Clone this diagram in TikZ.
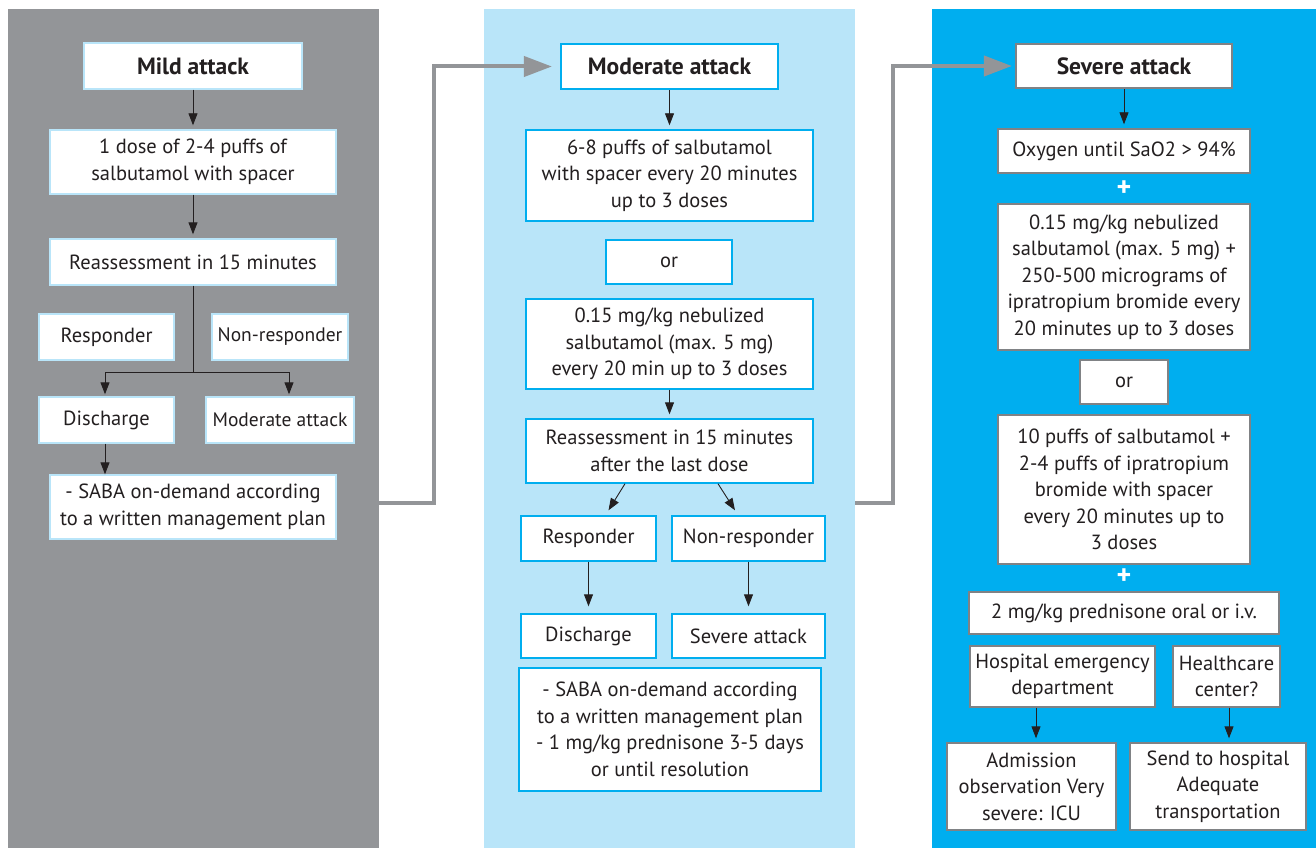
\documentclass[tikz,border=0pt]{standalone}
\usepackage{fontspec}
\setmainfont{PT Sans}
\usetikzlibrary{arrows.meta}
\definecolor{panelgray}{HTML}{939598}
\definecolor{panellight}{HTML}{B9E5F9}
\definecolor{panelblue}{HTML}{00AEEF}
\definecolor{boxgray}{HTML}{808285}
\definecolor{inkdark}{HTML}{231F20}
\tikzset{
  box/.style={draw, fill=white, line width=1.4pt, align=center, inner sep=0pt,
    text=inkdark, font=\fontsize{20.5}{26.5}\selectfont},
  title/.style={line width=2.2pt, font=\fontsize{23.5}{26}\selectfont\bfseries},
  sz/.style 2 args={minimum width=#1pt, minimum height=#2pt},
  arr/.style={inkdark, line width=0.9pt, -{Triangle[length=12pt,width=9pt]}, shorten >=4pt},
  bigarr/.style={panelgray, line width=4pt, -{Triangle[length=28pt,width=20pt]}},
}
\begin{document}
\begin{tikzpicture}[x=1pt,y=-1pt]
\useasboundingbox (0,0) rectangle (1316,848);
% panels
\fill[panelgray] (8,9) rectangle (379,848);
\fill[panellight] (484,9) rectangle (855,848);
\fill[panelblue] (932,9) rectangle (1316,848);

% mild
\begin{scope}[every node/.style={box, draw=panellight}]
\node[sz={218}{46}, title, line width=1.4pt] (mild) at (193,66) {Mild attack};
\node[sz={286}{64}] (dose) at (193,162) {1 dose of 2-4 puffs of\\salbutamol with spacer};
\node[sz={286}{46}] (reassA) at (193,262) {Reassessment in 15 minutes};
\node[sz={135}{46}] (respA) at (106.5,337) {Responder};
\node[sz={136}{46}, font=\fontsize{19.5}{26}\selectfont] (nonrespA) at (280,337) {Non-responder};
\node[sz={135}{46}] (dischA) at (106.5,420) {Discharge};
\node[sz={148}{46}, font=\fontsize{19.5}{26}\selectfont] (modA) at (280,420) {Moderate attack};
\node[sz={286}{64}] (sabaA) at (193,507) {- SABA on-demand according\\to a written management plan};
\end{scope}

% moderate
\begin{scope}[every node/.style={box, draw=panelblue}]
\node[sz={217}{45}, title] (mod) at (669.5,66.5) {Moderate attack};
\node[sz={287}{91}] (puffs) at (669.5,175.5) {6-8 puffs of salbutamol\\with spacer every 20 minutes\\up to 3 doses};
\node[sz={126}{44}] (orA) at (669,262) {or};
\node[sz={287}{90}] (nebA) at (669.5,344) {0.15 mg/kg nebulized\\salbutamol (max. 5 mg)\\every 20 min up to 3 doses};
\node[sz={287}{64}] (reassB) at (669.5,451) {Reassessment in 15 minutes\\after the last dose};
\node[sz={135}{45}] (respB) at (588.5,538.5) {Responder};
\node[sz={153}{45}] (nonrespB) at (748.5,538.5) {Non-responder};
\node[sz={135}{44}] (dischB) at (588.5,636) {Discharge};
\node[sz={153}{44}] (sevB) at (748.5,636) {Severe attack};
\node[sz={302}{123}] (sabaB) at (670,729.5) {- SABA on-demand according\\to a written management plan\\- 1 mg/kg prednisone 3-5 days\\or until resolution};
\end{scope}

% severe
\begin{scope}[every node/.style={box, draw=boxgray}]
\node[sz={216}{44}, title] (sev) at (1124,66) {Severe attack};
\node[sz={252}{44}] (oxy) at (1124,151) {Oxygen until SaO2 > 94\%};
\node[sz={252}{146}] (nebB) at (1124,277) {0.15 mg/kg nebulized\\salbutamol (max. 5 mg) +\\250-500 micrograms of\\ipratropium bromide every\\20 minutes up to 3 doses};
\node[sz={88}{44}] (orB) at (1124,382) {or};
\node[sz={252}{149}] (ten) at (1124,489.5) {10 puffs of salbutamol +\\2-4 puffs of ipratropium\\bromide with spacer\\every 20 minutes up to\\3 doses};
\node[sz={310}{42}] (pred) at (1124,613) {2 mg/kg prednisone oral or i.v.};
\node[sz={185}{61}] (hosp) at (1062.5,676.5) {Hospital emergency\\department};
\node[sz={107}{61}] (hc) at (1226.5,676.5) {Healthcare\\center?};
\node[sz={169}{87}] (adm) at (1031.5,786.5) {Admission\\observation Very\\severe: ICU};
\node[sz={176}{87}] (send) at (1218,786.5) {Send to hospital\\Adequate\\transportation};
\end{scope}
\node[text=white, font=\fontsize{28}{28}\selectfont\bfseries] (plusA) at (1124,189) {+};
\node[text=white, font=\fontsize{28}{28}\selectfont\bfseries] (plusB) at (1124,577) {+};

% arrows
\foreach \a/\b in {mild/dose, dose/reassA, mod/puffs, nebA/reassB, sev/oxy}
{
    \draw[arr] (\a.south) -- (\b.north);
}
\coordinate (split) at (193,372);
\draw[inkdark, line width=0.9pt] (reassA.south) -- (split);
\draw[arr, shorten >=2pt] (split) -| ([xshift=-1.5pt]dischA.north);
\draw[arr, shorten >=2pt] (split) -| ([xshift=9pt]modA.north);
\draw[arr, shorten >=0pt] ([xshift=-1.5pt]dischA.south) -- ([xshift=-1.5pt]dischA.south |- sabaA.north);
\draw[arr, shorten >=0pt] ([xshift=-44.5pt]reassB.south) -- ([xshift=20pt,yshift=5pt]respB.north);
\draw[arr, shorten >=0pt] ([xshift=48.5pt]reassB.south) -- ([xshift=-13.5pt,yshift=5pt]nonrespB.north);
\draw[arr, shorten >=7pt] (respB.south) -- (dischB.north);
\draw[arr, shorten >=7pt] (nonrespB.south) -- (sevB.north);
\draw[arr] ([xshift=-26.5pt]hosp.south) -- ([xshift=-26.5pt]hosp.south |- adm.north);
\draw[arr] ([xshift=2.5pt]hc.south) -- ([xshift=2.5pt]hc.south |- send.north);

% panel links
\coordinate (outA) at (379,503);
\coordinate (outB) at (855,503);
\draw[bigarr, shorten >=8pt] (outA) -- ++(55,0) |- (mod.west);
\draw[bigarr, shorten >=3pt] (outB) -- ++(38,0) |- (sev.west);
\end{tikzpicture}
\end{document}
